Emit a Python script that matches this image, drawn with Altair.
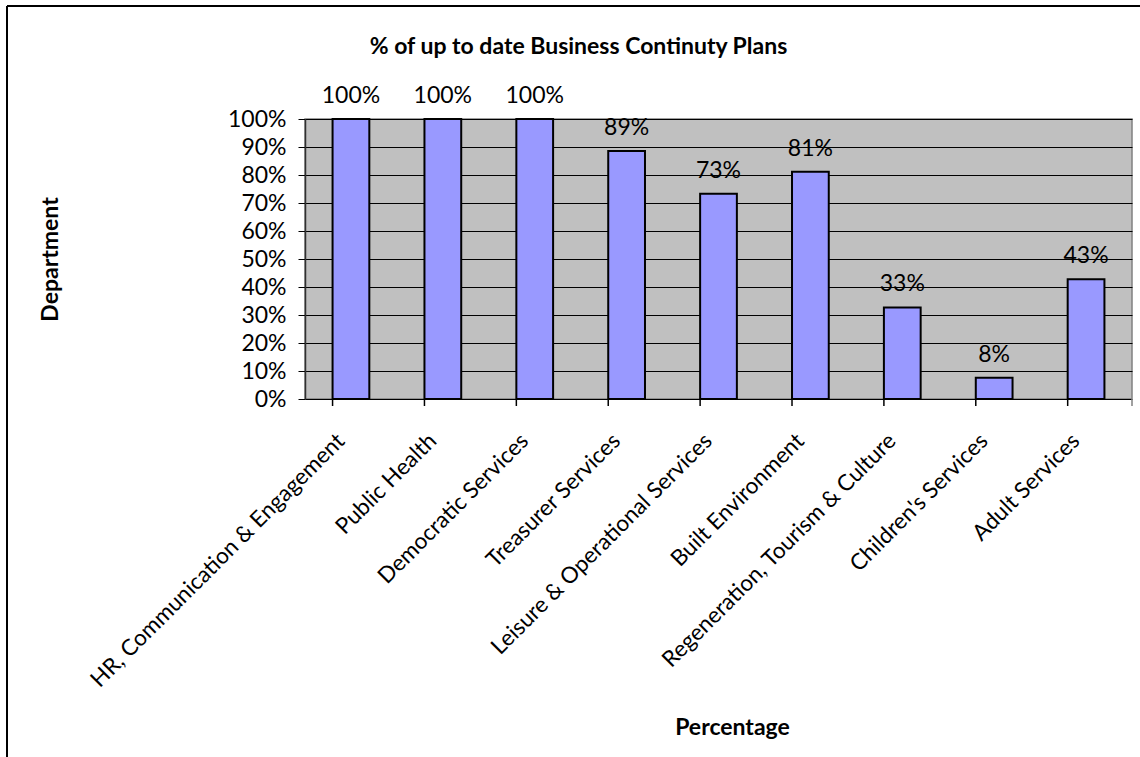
import altair as alt
import pandas as pd

departments = [
    "HR, Communication & Engagement",
    "Public Health",
    "Democratic Services",
    "Treasurer Services",
    "Leisure & Operational Services",
    "Built Environment",
    "Regeneration, Tourism & Culture",
    "Children's Services",
    "Adult Services",
]
pct_values = [1.00, 1.00, 1.00, 0.886, 0.733, 0.812, 0.327, 0.076, 0.428]
pct_labels = ["100%", "100%", "100%", "89%", "73%", "81%", "33%", "8%", "43%"]
y_ticks = [0, 0.1, 0.2, 0.3, 0.4, 0.5, 0.6, 0.7, 0.8, 0.9, 1.0]

df = pd.DataFrame({"dept": departments, "pct": pct_values, "label": pct_labels})

FONT = "Lato"
W, H = 827, 280

x_enc = alt.X(
    "dept:N",
    sort=departments,
    scale=alt.Scale(paddingInner=0.6, paddingOuter=0.3),
    axis=alt.Axis(
        title="Percentage",
        titleFont=FONT, titleFontSize=23, titleFontWeight="bold", titleColor="black",
        titleX=427, titleY=328, titleAlign="center", titleBaseline="middle",
        labelAngle=-45, labelAlign="right", labelBaseline="middle",
        labelFont=FONT, labelFontSize=22.5, labelColor="black", labelPadding=38,
        labelOffset=-10, ticks=False, domain=False, labelLimit=600,
    ),
)

y_enc = alt.Y(
    "pct:Q",
    scale=alt.Scale(domain=[0, 1], nice=False),
    axis=alt.Axis(
        values=y_ticks, tickCount=11, format=".0%", labelOverlap=False,
        title="Department",
        titleFont=FONT, titleFontSize=23, titleFontWeight="bold", titleColor="black",
        titleX=-255, titleY=140, titleAngle=270, titleAlign="center", titleBaseline="middle",
        labelFont=FONT, labelFontSize=23, labelColor="black", labelPadding=12,
        tickSize=7, tickColor="black", domainColor="#303030", domainWidth=1.5,
        grid=True, gridColor="black", gridWidth=1.2,
    ),
)

bars = alt.Chart(df).mark_bar(
    color="#9999FF", stroke="black", strokeWidth=2
).encode(x=x_enc, y=y_enc)

texts = alt.Chart(df).mark_text(
    font=FONT, fontSize=23, color="black", baseline="alphabetic", dy=-16
).encode(x=alt.X("dept:N", sort=departments), y="pct:Q", text="label:N")

ticks = alt.Chart(df).mark_rule(color="black", strokeWidth=1.5).encode(
    x=alt.X("dept:N", sort=departments, bandPosition=0),
    y=alt.value(H), y2=alt.value(H + 7),
)

end_tick = alt.Chart(pd.DataFrame({"k": [0]})).mark_rule(color="#808080", strokeWidth=1.5).encode(
    x=alt.value(W), y=alt.value(H), y2=alt.value(H + 7),
)

frame_top = alt.Chart(pd.DataFrame({"k": [0]})).mark_rule(color="black", strokeWidth=2).encode(
    x=alt.value(-298), x2=alt.value(W + 20), y=alt.value(-113),
)
frame_left = alt.Chart(pd.DataFrame({"k": [0]})).mark_rule(color="black", strokeWidth=2).encode(
    x=alt.value(-298), y=alt.value(-113), y2=alt.value(H + 400),
)

chart = alt.layer(bars, texts, ticks, end_tick, frame_top, frame_left).properties(
    width=W, height=H,
    title=alt.TitleParams(
        "% of up to date Business Continuty Plans",
        font=FONT, fontSize=23, fontWeight="bold", color="black",
        anchor="middle", frame="group", dx=-140, offset=-72, baseline="alphabetic",
    ),
    padding={"left": 305, "top": 119, "right": 8, "bottom": 358},
    autosize=alt.AutoSizeParams(type="none"),
    background="white",
).configure_view(
    fill="#C0C0C0", stroke="#808080", strokeWidth=1.5
)

chart.save("out.html", embed_options={"renderer": "svg", "actions": False})
